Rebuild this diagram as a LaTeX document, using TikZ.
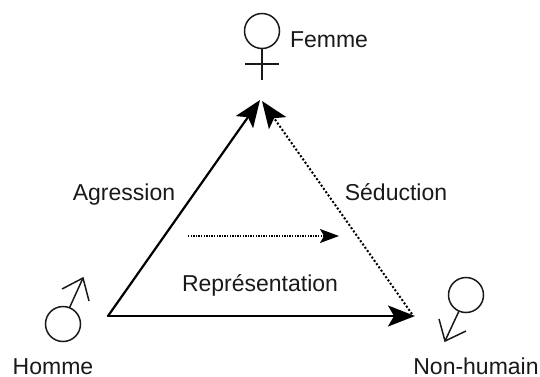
\documentclass[tikz,border=0pt]{standalone}
\usepackage{fontspec}
\setmainfont{Liberation Sans}
\usetikzlibrary{arrows.meta}
\tikzset{
  x=1pt,y=-1pt,
  lbl/.style={font=\fontsize{23}{26}\selectfont,text=black!90,inner sep=0pt,anchor=base},
  sym/.style={draw=black!90,line width=1.5pt,circle,minimum size=35pt,inner sep=0pt},
  symline/.style={draw=black!90,line width=1.5pt},
  solidarrow/.style={line width=2.2pt,-{Stealth[length=27pt,width=21pt,inset=6pt]}},
  dottedarrow/.style={line width=2pt,dash pattern=on 2pt off 2pt,-{Stealth[length=27pt,width=21pt,inset=6pt]}},
  thinarrow/.style={line width=1.3pt,dash pattern=on 1.3pt off 1.3pt,-{Stealth[length=19pt,width=14pt,inset=4pt]}}
}
\begin{document}
\begin{tikzpicture}
\useasboundingbox (0,0) rectangle (540,376);
\coordinate (H) at (108,316);
\coordinate (F) at (260,100);
\coordinate (N) at (415,316);
\coordinate (Ns) at (412,314);
\coordinate (Fd) at (262,101);
\coordinate (Rs) at (188,236);
\coordinate (Re) at (339,236);
% arrows
\draw[solidarrow,line cap=round] (H) -- (F);
\draw[solidarrow,line cap=round] (H) -- (N);
\draw[dottedarrow] (Ns) -- (Fd);
\draw[thinarrow] (Rs) -- (Re);
% female
\node[sym] (fc) at (262,31) {};
\coordinate (fb) at (262,80);
\coordinate (fl) at (245,64);
\coordinate (fr) at (279,64);
\draw[symline] (fc.south) -- (fb);
\draw[symline] (fl) -- (fr);
% male
\node[sym] (mc) at (63,324) {};
\coordinate (mt) at (83,278);
\coordinate (ml) at (62,289);
\coordinate (mr) at (89,301);
\draw[symline] (mc) ++(6.5,-16.3) -- (mt);
\draw[symline] (ml) -- (mt) -- (mr);
% non-human
\node[sym] (nc) at (466,295) {};
\coordinate (nt) at (445,341);
\coordinate (nl) at (439,319);
\coordinate (nr) at (466,331);
\draw[symline] (nc) ++(-7,16) -- (nt);
\draw[symline] (nl) -- (nt) -- (nr);
% labels
\node[lbl] (tf) at (329,47) {Femme};
\node[lbl] (ta) at (124,200) {Agression};
\node[lbl] (ts) at (396,200) {Séduction};
\node[lbl] (tr) at (260,291) {Représentation};
\node[lbl] (th) at (53,374) {Homme};
\node[lbl] (tn) at (476,374) {Non-humain};
\end{tikzpicture}
\end{document}
